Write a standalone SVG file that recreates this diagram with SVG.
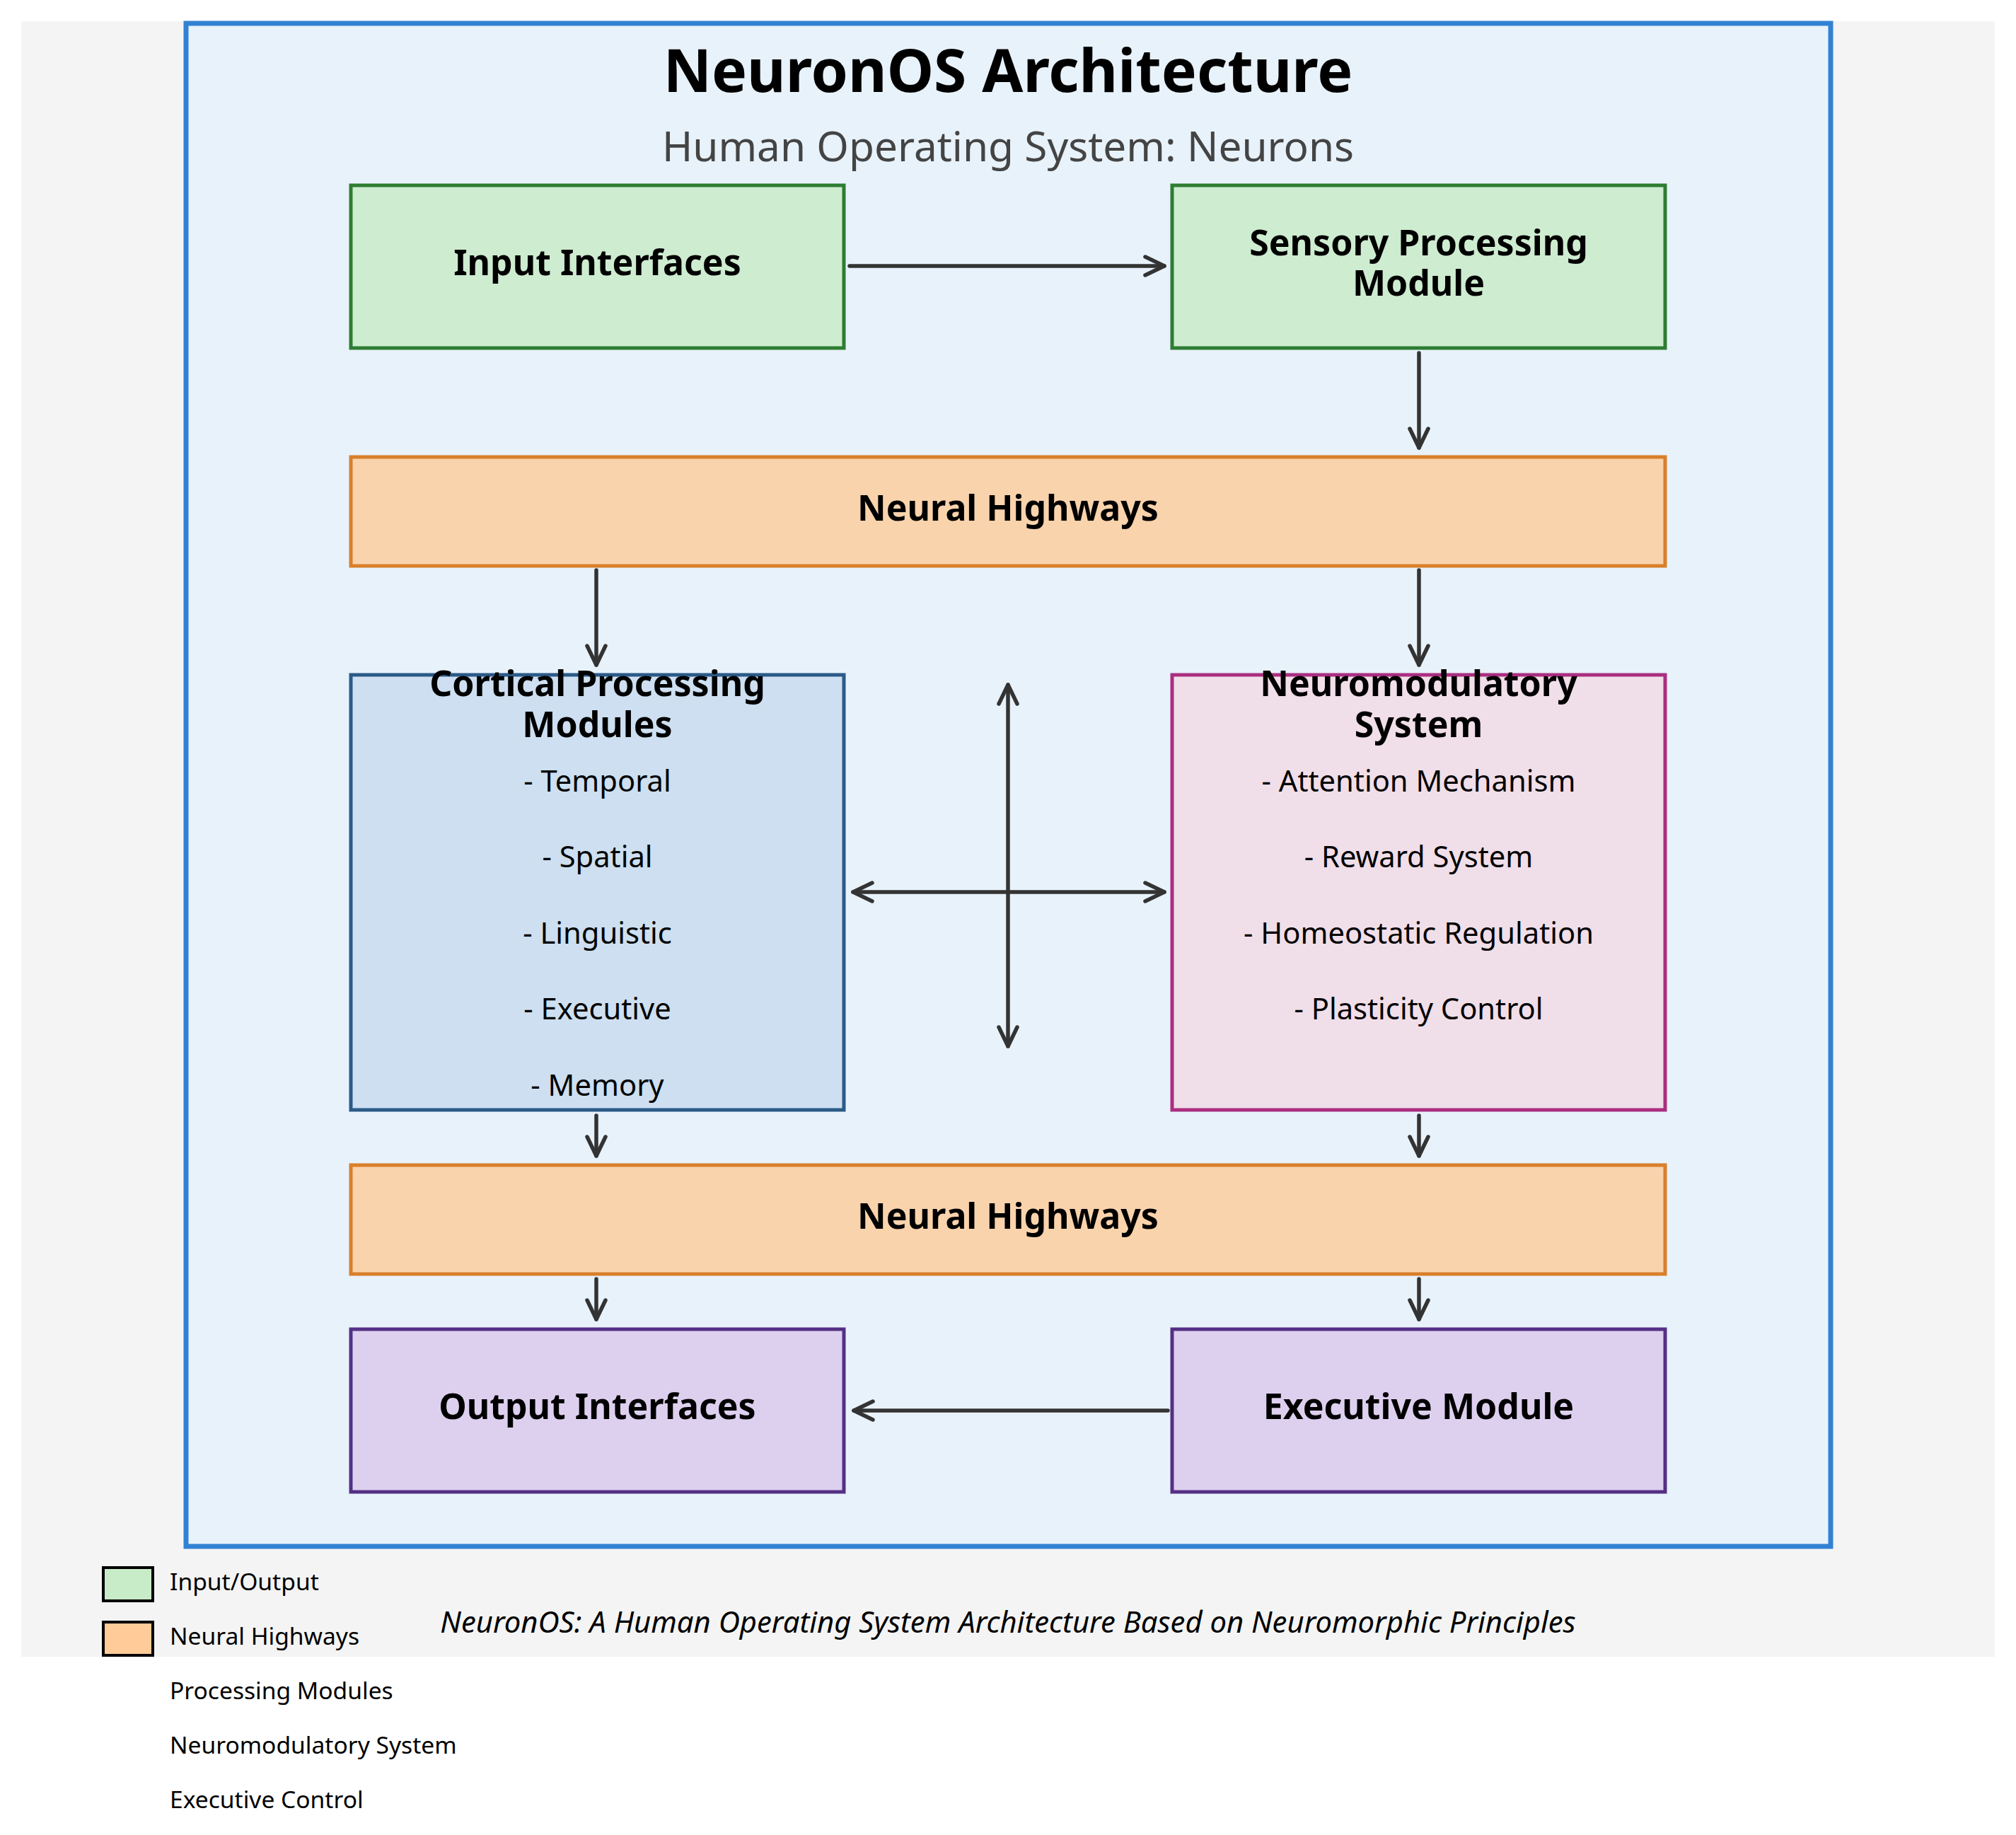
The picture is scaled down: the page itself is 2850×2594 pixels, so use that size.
<svg xmlns="http://www.w3.org/2000/svg" width="2850" height="2594" viewBox="0 0 2850 2594">
  <defs>
    <marker id="arr" viewBox="0 0 32 30" refX="29" refY="15" markerWidth="32" markerHeight="30" markerUnits="userSpaceOnUse" orient="auto-start-reverse" overflow="visible">
      <path d="M2,2 L29,15 L2,28" fill="none" stroke="#333333" stroke-width="5.5" stroke-linecap="round" stroke-linejoin="round"/>
    </marker>
  </defs>
  <style>
    text { font-family: "Noto Sans", "Open Sans", "DejaVu Sans", sans-serif; fill: #000; }
    .title { font-size: 84px; font-weight: bold; text-anchor: middle; }
    .subtitle { font-size: 58.5px; fill: #444444; text-anchor: middle; }
    .lbl { font-size: 50px; font-weight: bold; text-anchor: middle; }
    .item { font-size: 41.7px; text-anchor: middle; }
    .legend { font-size: 33.6px; }
    .footer { font-size: 41.8px; font-style: italic; text-anchor: middle; }
    .io { fill: #ceecd0; stroke: #2e7d32; stroke-width: 5; }
    .hw { fill: #f9d3ac; stroke: #d97f2a; stroke-width: 5; }
    .cort { fill: #cddff0; stroke: #2b5a88; stroke-width: 5; }
    .neuro { fill: #f0dee9; stroke: #aa2e80; stroke-width: 5; }
    .exec { fill: #ddd0ef; stroke: #553085; stroke-width: 5; }
    .conn { stroke: #333333; stroke-width: 5.5; stroke-linecap: round; fill: none; marker-end: url(#arr); }
    .both { marker-start: url(#arr); }
  </style>
  <rect x="30" y="30" width="2790" height="2312" fill="#f4f4f4"/>
  <g id="frame">
    <rect x="263" y="33" width="2325" height="2153" fill="#e8f2fb" stroke="#3282d4" stroke-width="7"/>
    <text class="title" x="1425" y="130">NeuronOS Architecture</text>
    <text class="subtitle" x="1425" y="228">Human Operating System: Neurons</text>
  </g>
  <g id="input-interfaces">
    <rect class="io" x="496" y="262" width="697" height="230"/>
    <text class="lbl" x="844.5" y="389">Input Interfaces</text>
  </g>
  <g id="sensory-processing">
    <rect class="io" x="1657" y="262" width="697" height="230"/>
    <text class="lbl" x="2005.5" y="361">Sensory Processing</text>
    <text class="lbl" x="2005.5" y="418">Module</text>
  </g>
  <g id="neural-highways-1">
    <rect class="hw" x="496" y="646" width="1858" height="154"/>
    <text class="lbl" x="1425" y="736">Neural Highways</text>
  </g>
  <g id="cortical-processing">
    <rect class="cort" x="496" y="954" width="697" height="615"/>
    <text class="lbl" x="844.5" y="984">Cortical Processing</text>
    <text class="lbl" x="844.5" y="1042">Modules</text>
    <text class="item" x="844.5" y="1119">- Temporal</text>
    <text class="item" x="844.5" y="1226">- Spatial</text>
    <text class="item" x="844.5" y="1334">- Linguistic</text>
    <text class="item" x="844.5" y="1441">- Executive</text>
    <text class="item" x="844.5" y="1549">- Memory</text>
  </g>
  <g id="neuromodulatory-system">
    <rect class="neuro" x="1657" y="954" width="697" height="615"/>
    <text class="lbl" x="2005.5" y="984">Neuromodulatory</text>
    <text class="lbl" x="2005.5" y="1042">System</text>
    <text class="item" x="2005.5" y="1119">- Attention Mechanism</text>
    <text class="item" x="2005.5" y="1226">- Reward System</text>
    <text class="item" x="2005.5" y="1334">- Homeostatic Regulation</text>
    <text class="item" x="2005.5" y="1441">- Plasticity Control</text>
  </g>
  <g id="neural-highways-2">
    <rect class="hw" x="496" y="1647" width="1858" height="154"/>
    <text class="lbl" x="1425" y="1737">Neural Highways</text>
  </g>
  <g id="output-interfaces">
    <rect class="exec" x="496" y="1879" width="697" height="230"/>
    <text class="lbl" x="844.5" y="2006">Output Interfaces</text>
  </g>
  <g id="executive-module">
    <rect class="exec" x="1657" y="1879" width="697" height="230"/>
    <text class="lbl" x="2005.5" y="2006">Executive Module</text>
  </g>
  <g id="connectors">
    <line class="conn" x1="1201" y1="376" x2="1646" y2="376"/>
    <line class="conn" x1="2006" y1="499" x2="2006" y2="633"/>
    <line class="conn" x1="843" y1="806" x2="843" y2="940"/>
    <line class="conn" x1="2006" y1="806" x2="2006" y2="940"/>
    <line class="conn both" x1="1206" y1="1261" x2="1646" y2="1261"/>
    <line class="conn both" x1="1425" y1="968" x2="1425" y2="1479"/>
    <line class="conn" x1="843" y1="1577" x2="843" y2="1634"/>
    <line class="conn" x1="2006" y1="1577" x2="2006" y2="1634"/>
    <line class="conn" x1="843" y1="1808" x2="843" y2="1865"/>
    <line class="conn" x1="2006" y1="1808" x2="2006" y2="1865"/>
    <line class="conn" x1="1651" y1="1994" x2="1207" y2="1994"/>
  </g>
  <g id="legend">
    <rect x="146" y="2216" width="70" height="47" fill="#c8ebc8" stroke="#000" stroke-width="4"/>
    <text class="legend" x="240" y="2248">Input/Output</text>
    <rect x="146" y="2293" width="70" height="47" fill="#ffcb99" stroke="#000" stroke-width="4"/>
    <text class="legend" x="240" y="2325">Neural Highways</text>
    <text class="legend" x="240" y="2402">Processing Modules</text>
    <text class="legend" x="240" y="2479">Neuromodulatory System</text>
    <text class="legend" x="240" y="2556">Executive Control</text>
  </g>
  <text class="footer" x="1425" y="2308">NeuronOS: A Human Operating System Architecture Based on Neuromorphic Principles</text>
</svg>
